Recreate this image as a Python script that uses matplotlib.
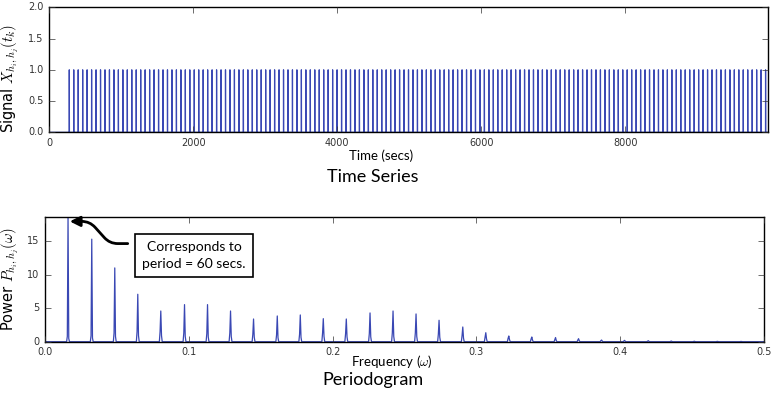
import numpy as np
import matplotlib
matplotlib.use('Agg')
import matplotlib.pyplot as plt

# Time series: unit spikes at a regular period
t_end = 9990            # last second of the record
spike_start = 278       # first spike (secs)
spike_period = 62       # spacing between spikes (secs)

# Periodogram: peaks at the harmonics of the spike frequency
peak_freqs = [0.0161, 0.0323, 0.0484, 0.0645, 0.0806, 0.0968, 0.1129, 0.1290,
              0.1452, 0.1613, 0.1774, 0.1935, 0.2097, 0.2258, 0.2419, 0.2581,
              0.2742, 0.2903, 0.3065, 0.3226, 0.3387, 0.3548, 0.3710, 0.3871,
              0.4032, 0.4194, 0.4355, 0.4516, 0.4677, 0.4839]
peak_heights = [18.6, 15.26, 10.98, 7.06, 4.57, 5.52, 5.52, 4.57,
                3.38, 3.83, 3.98, 3.43, 3.38, 4.28, 4.57, 4.13,
                3.19, 2.19, 1.34, 0.85, 0.70, 0.62, 0.45, 0.25,
                0.20, 0.15, 0.10, 0.07, 0.05, 0.04]
shoulder_heights = [0.8, 0.9, 1.3, 1.5, 1.5, 1.3, 1.2, 1.3,
                    1.1, 1.0, 1.1, 1.3, 1.2, 1.2, 1.3, 1.3,
                    1.1, 0.9, 0.7, 0.5, 0.4, 0.3, 0.25, 0.15,
                    0.1, 0.08, 0.05, 0.04, 0.03, 0.02]

plt.style.use('classic')
plt.rcParams['figure.facecolor'] = 'white'
plt.rcParams['savefig.facecolor'] = 'white'
plt.rcParams['xtick.labelsize'] = 7
plt.rcParams['ytick.labelsize'] = 7
plt.rcParams['xtick.color'] = '#333333'
plt.rcParams['ytick.color'] = '#333333'

line_col = '#3a48b4'
label_font = 'Lato'

W, H = 771, 395
fig = plt.figure(figsize=(W / 100, H / 100), dpi=100)

# --- time series ---
t = np.arange(0, t_end + 1)
signal = np.zeros_like(t, dtype=float)
signal[np.arange(spike_start, t_end, spike_period)] = 1.0

ax1 = fig.add_axes([0.0639, 0.665, 0.9328, 0.3165])
ax1.plot(t, signal, color=line_col, linewidth=0.9)
ax1.set_xlim(0, t_end)
ax1.set_ylim(0, 2.0)
ax1.set_yticks([0.0, 0.5, 1.0, 1.5, 2.0])
ax1.set_xticks([0, 2000, 4000, 6000, 8000])
ax1.set_ylabel(r'Signal $X_{h_i,h_j}(t_k)$', fontsize=10.5)
ax1.yaxis.set_label_coords(-0.041, 0.43)

# --- periodogram ---
step = 0.0005
freqs = np.arange(0, 0.5 + step / 2, step)
power = np.zeros_like(freqs)
for f, h, s in zip(peak_freqs, peak_heights, shoulder_heights):
    i = int(round(f / step))
    power[i] = h
    power[i - 1] = max(power[i - 1], s)
    power[i + 1] = max(power[i + 1], s * 0.6)

ax2 = fig.add_axes([0.0584, 0.1349, 0.9326, 0.3165])
ax2.plot(freqs, power, color=line_col, linewidth=0.9)
ax2.set_xlim(0, 0.5)
ax2.set_ylim(0, 18.6)
ax2.set_yticks([0, 5, 10, 15])
ax2.set_xticks([0.0, 0.1, 0.2, 0.3, 0.4, 0.5])
ax2.set_ylabel(r'Power $P_{h_i,h_j}(\omega)$', fontsize=10.5)
ax2.yaxis.set_label_coords(-0.035, 0.5)

# annotation
ax2.text(0.1036, 12.8, 'Corresponds to\nperiod = 60 secs.', ha='center', va='center',
         fontsize=10, family=label_font, linespacing=1.5,
         bbox=dict(boxstyle='square,pad=0.5', facecolor='white', edgecolor='black', linewidth=1.2))
ax2.annotate('', xy=(0.0172, 17.9), xytext=(0.0575, 14.6),
             arrowprops=dict(arrowstyle='-|>,head_length=0.5,head_width=0.25', color='black',
                             linewidth=2,
                             connectionstyle='arc,angleA=180,armA=18,angleB=0,armB=20,rad=8',
                             shrinkA=0, shrinkB=0))

# axis labels and panel titles
fig.text(381 / W, 1 - 156 / H, 'Time (secs)', ha='center', va='center', fontsize=9.5, family=label_font)
fig.text(372.5 / W, 1 - 177.5 / H, 'Time Series', ha='center', va='center', fontsize=13, family=label_font)
fig.text(392 / W, 1 - 362 / H, r'Frequency ($\omega$)', ha='center', va='center', fontsize=9.5, family=label_font)
fig.text(372.5 / W, 1 - 380 / H, 'Periodogram', ha='center', va='center', fontsize=13, family=label_font)

fig.savefig('out.png', dpi=100)
